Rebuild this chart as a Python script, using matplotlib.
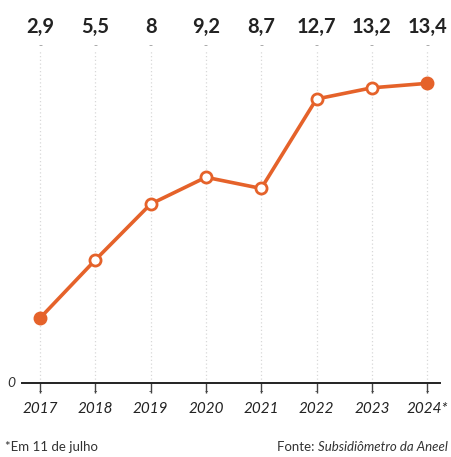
import matplotlib
matplotlib.use('Agg')
import matplotlib.pyplot as plt
import matplotlib.transforms as mtransforms

years = ['2017', '2018', '2019', '2020', '2021', '2022', '2023', '2024*']
values = [2.9, 5.5, 8.0, 9.2, 8.7, 12.7, 13.2, 13.4]
value_labels = ['2,9', '5,5', '8', '9,2', '8,7', '12,7', '13,2', '13,4']

orange = '#E5622A'
font = ['Lato', 'DejaVu Sans']

fig = plt.figure(figsize=(4.52, 4.57), dpi=100)
ax = fig.add_axes([0.0487, 0.162, 0.925, 0.729])

x = list(range(len(years)))

for xi in x:
    ax.axvline(xi, color='#d8d8d8', lw=0.9, ls=(0, (1, 2)), zorder=0)

ax.plot(x, values, color=orange, lw=2.6, zorder=2)
# open circles in between, filled at ends
ax.plot(x[1:-1], values[1:-1], 'o', ms=8, mfc='white', mec=orange, mew=2, zorder=3)
ax.plot([x[0], x[-1]], [values[0], values[-1]], 'o', ms=9, color=orange, zorder=3)

ax.set_xlim(-0.325, 7.235)
ax.set_ylim(0, 14.9)

for s in ['top', 'right', 'left']:
    ax.spines[s].set_visible(False)
ax.spines['bottom'].set_linewidth(1.4)
ax.spines['bottom'].set_color('#222222')

ax.set_yticks([])
ax.text(-0.45, 0, '0', ha='right', va='center', fontsize=10, style='italic',
        family=font, color='#333333')

ax.set_xticks(x)
ax.set_xticklabels(years, fontsize=11, style='italic', family=font, color='#222222')
ax.tick_params(axis='x', length=7, width=1, color='#444444', pad=7)

trans = mtransforms.blended_transform_factory(ax.transData, fig.transFigure)
for xi, lab in zip(x, value_labels):
    ax.text(xi, 1 - 27 / 457, lab, transform=trans, ha='center', va='center',
            fontsize=14.5, fontweight='bold', family=font, color='#222222')
    ax.text(xi, 1 - 45 / 457, '-', transform=trans, ha='center', va='center',
            fontsize=8, color='#999999')
    # small end bar on each tick
    ax.text(xi, 1 - 391 / 457, '-', transform=trans, ha='center', va='center',
            fontsize=7, color='#444444')

fig.text(0.012, 1 - 447 / 457, '*Em 11 de julho', fontsize=9.5, family=font,
         color='#333333', va='center')
t = fig.text(0.99, 1 - 447 / 457, 'Subsidiômetro da Aneel', fontsize=9.5, family=font,
             style='italic', color='#333333', va='center', ha='right')
fig.canvas.draw()
bb = t.get_window_extent()
fig.text(bb.x0 / fig.bbox.width, 1 - 447 / 457, 'Fonte: ', fontsize=9.5, family=font,
         color='#333333', va='center', ha='right')

fig.savefig('out.png', dpi=100)
